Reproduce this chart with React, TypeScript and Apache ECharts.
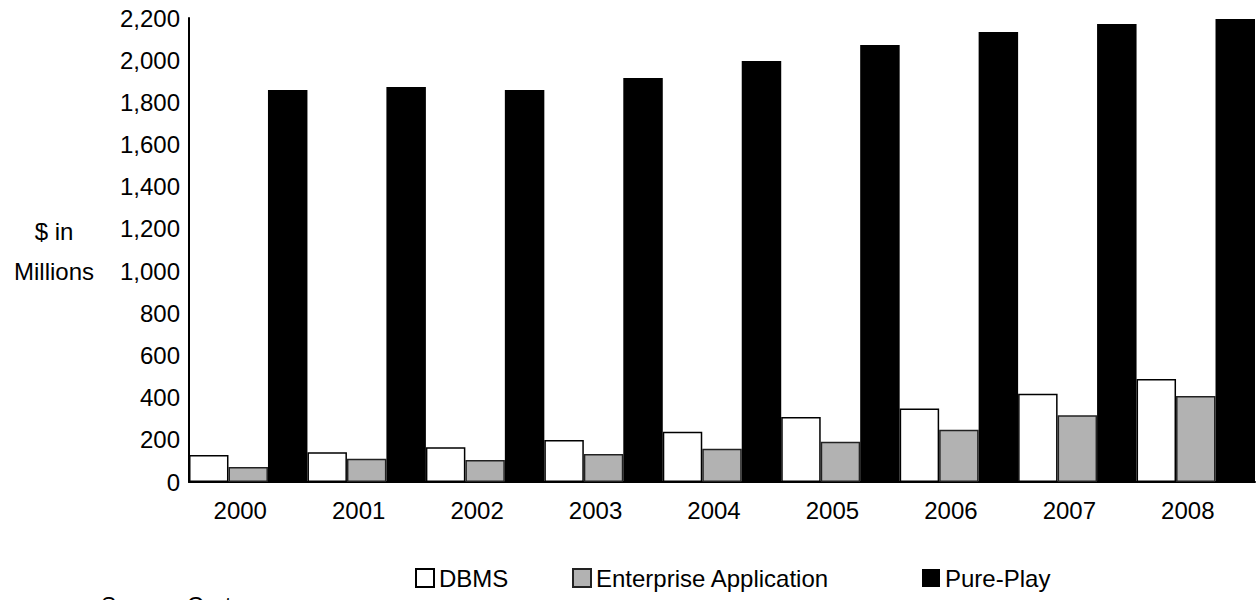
import React, { useEffect, useRef } from "react";
import * as echarts from "echarts";

const categories = ["2000", "2001", "2002", "2003", "2004", "2005", "2006", "2007", "2008"];
const dbms = [128, 141, 165, 199, 238, 308, 348, 419, 488];
const enterprise = [71, 110, 104, 133, 158, 191, 248, 316, 408];
const purePlay = [1859, 1873, 1859, 1916, 1996, 2072, 2134, 2172, 2195];
const seriesNames = ["DBMS", "Enterprise Application", "Pure-Play"];

const FONT = "'Liberation Sans', Arial, Helvetica, sans-serif";

export default function App() {
  const ref = useRef<HTMLDivElement>(null);
  useEffect(() => {
    if (!ref.current) return;
    const chart = echarts.init(ref.current, null, { renderer: "svg" });
    const legendLefts = [415, 572, 922];
    chart.setOption({
      animation: false,
      backgroundColor: "#ffffff",
      textStyle: { fontFamily: FONT },
      grid: { left: 189, top: 18, width: 1066, height: 464, containLabel: false },
      legend: seriesNames.map((n, i) => ({
        data: [n],
        left: legendLefts[i],
        top: 566,
        padding: 0,
        icon: "rect",
        itemWidth: 18,
        itemHeight: 18,
        textStyle: { fontSize: 24, color: "#000", fontFamily: FONT },
        selectedMode: false,
      })),
      xAxis: {
        type: "category",
        data: categories,
        axisLine: { show: true, lineStyle: { color: "#000", width: 2 } },
        axisTick: { show: false },
        axisLabel: {
          fontSize: 24,
          color: "#000",
          fontFamily: FONT,
          margin: 16,
          padding: [0, 16, 0, 0],
        },
      },
      yAxis: {
        type: "value",
        min: 0,
        max: 2200,
        interval: 200,
        axisLine: { show: true, lineStyle: { color: "#000", width: 2 } },
        axisTick: { show: false },
        splitLine: { show: false },
        axisLabel: {
          fontSize: 24,
          color: "#000",
          fontFamily: FONT,
          margin: 9,
          formatter: (v: number) => v.toLocaleString("en-US"),
        },
      },
      graphic: [
        {
          type: "text",
          x: 54,
          y: 251,
          style: {
            text: "$ in\nMillions",
            fontSize: 24,
            fontFamily: FONT,
            fill: "#000",
            textAlign: "center",
            textVerticalAlign: "middle",
            lineHeight: 40,
          },
        },
        {
          type: "text",
          x: 101,
          y: 594,
          style: {
            text: "Source: Gartner",
            fontSize: 23,
            fontFamily: FONT,
            fill: "#000",
            textAlign: "left",
            textVerticalAlign: "top",
          },
        },
      ],
      series: [
        {
          name: seriesNames[0],
          type: "bar",
          data: dbms,
          barGap: "0%",
          barCategoryGap: "0%",
          itemStyle: { color: "#ffffff", borderColor: "#000", borderWidth: 1.5 },
        },
        {
          name: seriesNames[1],
          type: "bar",
          data: enterprise,
          barGap: "0%",
          barCategoryGap: "0%",
          itemStyle: { color: "#b2b2b2", borderColor: "#222", borderWidth: 1.5 },
        },
        {
          name: seriesNames[2],
          type: "bar",
          data: purePlay,
          barGap: "0%",
          barCategoryGap: "0%",
          itemStyle: { color: "#000000", borderColor: "#000", borderWidth: 0 },
        },
      ],
    });
    return () => chart.dispose();
  }, []);
  return (
    <div
      ref={ref}
      style={{ position: "fixed", left: 0, top: 0, width: 1256, height: 600, background: "#fff" }}
    />
  );
}
